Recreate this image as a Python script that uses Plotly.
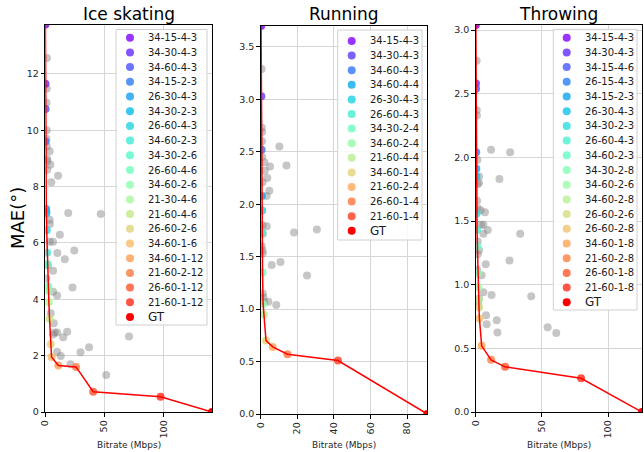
import math
import plotly.graph_objects as go

W, H = 644, 452

# ---------------- data ----------------
ice_names = ["34-15-4-3", "34-30-4-3", "34-60-4-3", "34-15-2-3", "26-30-4-3", "34-30-2-3",
             "26-60-4-3", "34-60-2-3", "34-30-2-6", "26-60-4-6", "34-60-2-6", "21-30-4-6",
             "21-60-4-6", "26-60-2-6", "34-60-1-6", "34-60-1-12", "21-60-2-12", "26-60-1-12",
             "21-60-1-12"]
ice_pareto_bitrate = [0.1, 0.15, 0.2, 0.3, 0.7, 0.85, 1.2, 1.6, 1.9, 2.5, 2.7, 3.0, 3.6,
                      4.6, 5.3, 11.0, 26.0, 40.5, 97.5]
ice_pareto_mae = [13.75, 11.65, 10.75, 9.6, 7.2, 7.05, 6.45, 5.65, 5.25, 4.45, 4.3, 3.9, 3.3,
                  2.4, 1.95, 1.65, 1.6, 0.72, 0.54]
ice_gt_bitrate = 141.0
ice_other_bitrate = [1.4, 1.2, 1.0, 1.2, 1.0, 1.3, 3.7, 1.5, 4.3, 1.6, 10.8, 5.1, 19.4, 46.9,
                     3.7, 3.9, 12.3, 3.7, 6.5, 10.2, 24.5, 16.5, 2.2, 6.6, 23.0, 0.8, 6.6, 10.0,
                     4.6, 7.2, 8.0, 6.6, 10.0, 18.5, 15.1, 70.8, 10.0, 13.1, 29.8, 37.0, 21.3,
                     51.5, 1.0, 2.0]
ice_other_mae = [12.56, 11.48, 10.97, 10.0, 9.7, 9.42, 9.25, 8.99, 8.77, 8.6, 8.38, 8.15, 7.06,
                 7.03, 6.82, 6.67, 6.29, 6.04, 6.04, 5.64, 5.73, 5.42, 5.2, 5.01, 4.42, 4.74,
                 4.27, 4.13, 3.5, 3.15, 2.82, 2.75, 2.82, 2.85, 2.65, 2.68, 2.14, 1.99, 2.12,
                 2.3, 1.69, 1.31, 7.1, 8.9]

run_names = ["34-15-4-3", "34-30-4-3", "34-60-4-3", "34-60-4-4", "26-30-4-3", "26-60-4-3",
             "34-30-2-4", "34-60-2-4", "21-60-4-4", "34-60-1-4", "21-60-2-4", "26-60-1-4",
             "21-60-1-4"]
run_pareto_bitrate = [0.2, 0.35, 0.5, 0.7, 0.8, 0.9, 1.0, 1.3, 1.8, 2.9, 6.6, 14.6, 42.2]
run_pareto_mae = [3.70, 3.03, 2.52, 2.08, 1.94, 1.73, 1.35, 1.05, 0.95, 0.70, 0.64, 0.57, 0.51]
run_gt_bitrate = 91.0
run_other_bitrate = [0.5, 0.6, 0.8, 0.7, 10.2, 14.1, 5.1, 2.0, 2.2, 3.6, 1.0, 4.7, 3.2, 3.3,
                     30.7, 18.2, 0.6, 1.0, 1.1, 6.0, 10.8, 25.3, 1.2, 1.5, 4.2, 1.8, 8.5, 1.0,
                     1.2, 0.8]
run_other_mae = [3.29, 2.73, 2.69, 2.60, 2.55, 2.37, 2.36, 2.40, 2.32, 2.25, 2.21, 2.13, 2.08,
                 1.79, 1.76, 1.73, 1.60, 1.56, 1.53, 1.42, 1.45, 1.32, 1.15, 1.11, 1.07, 1.07,
                 1.04, 1.80, 1.72, 2.45]

thr_names = ["34-15-4-3", "34-30-4-3", "34-15-4-6", "26-15-4-3", "34-15-2-3", "26-30-4-3",
             "34-30-2-3", "26-60-4-3", "34-60-2-3", "34-30-2-8", "34-60-2-6", "34-60-2-8",
             "26-60-2-6", "26-60-2-8", "34-60-1-8", "21-60-2-8", "26-60-1-8", "21-60-1-8"]
thr_pareto_bitrate = [0.1, 0.2, 0.25, 0.35, 0.45, 0.5, 0.7, 1.0, 1.3, 1.6, 1.9, 2.2, 2.5, 2.8,
                      4.5, 11.6, 22.2, 79.5]
thr_pareto_mae = [3.04, 2.58, 2.54, 2.04, 1.91, 1.85, 1.56, 1.43, 1.30, 1.09, 0.98, 0.88, 0.82,
                  0.735, 0.52, 0.41, 0.355, 0.265]
thr_gt_bitrate = 125.5
thr_other_bitrate = [0.7, 0.8, 0.9, 11.6, 26.0, 17.9, 2.5, 1.5, 2.5, 1.0, 1.5, 3.7, 7.0, 4.0,
                     5.8, 9.1, 5.8, 33.6, 1.5, 2.5, 1.5, 7.6, 25.5, 4.5, 5.8, 12.0, 41.9, 2.5,
                     1.8, 7.8, 8.3, 15.9, 16.4, 54.3, 60.8, 1.2, 1.0, 2.0]
thr_other_mae = [2.76, 2.37, 2.33, 2.06, 2.04, 1.83, 1.85, 1.79, 1.80, 1.66, 1.60, 1.585, 1.57,
                 1.47, 1.47, 1.43, 1.40, 1.40, 1.34, 1.27, 1.24, 1.16, 1.19, 1.075, 0.94, 0.92,
                 0.91, 0.89, 0.87, 0.76, 0.69, 0.72, 0.625, 0.665, 0.62, 1.98, 1.12, 0.83]

titles = ["Ice skating", "Running", "Throwing"]
x_dticks = [50, 20, 50]
y_dticks = [2, 0.5, 0.5]
y_formats = ["d", ".1f", ".1f"]

# ---------------- styling / layout ----------------
FONT = "DejaVu Sans"
# panel frames in pixels (left, right, top, bottom)
frames = [(45.3, 212.0, 24.5, 412.0), (260.7, 427.3, 26.0, 414.0), (475.7, 642.0, 25.0, 412.0)]
# legend geometry in pixels: box (x0, y0, x1, y1), marker x, text x, first row y, row step
legends = [((116, 29.5, 207, 325), 130, 146, 37.7, 14.7),
           ((337.7, 30, 422, 240), 351.7, 367.5, 41.0, 14.6),
           ((553.3, 29.3, 637, 310), 566.7, 582.5, 37.7, 14.7)]


def rainbow(t):
    r = min(1, max(0, abs(2 * t - 0.5)))
    g = min(1, max(0, math.sin(math.pi * t)))
    b = min(1, max(0, math.cos(math.pi * t / 2)))
    return (round(r * 255), round(g * 255), round(b * 255))


def rgba(c, a):
    return f"rgba({c[0]},{c[1]},{c[2]},{a})"


panels = [
    (ice_names, ice_pareto_bitrate, ice_pareto_mae, ice_gt_bitrate, ice_other_bitrate, ice_other_mae),
    (run_names, run_pareto_bitrate, run_pareto_mae, run_gt_bitrate, run_other_bitrate, run_other_mae),
    (thr_names, thr_pareto_bitrate, thr_pareto_mae, thr_gt_bitrate, thr_other_bitrate, thr_other_mae),
]

fig = go.Figure()
annotations = []
layout_axes = {}
ALPHA = 0.8

for k, (names, pb, pm, gt, ob, om) in enumerate(panels):
    idx = "" if k == 0 else str(k + 1)
    xa, ya = "x" + idx, "y" + idx
    n = len(names)
    cols = [rainbow(i / n) for i in range(n + 1)]  # last one (t=1) is GT red

    fig.add_trace(go.Scatter(x=ob, y=om, mode="markers", xaxis=xa, yaxis=ya,
                             marker=dict(size=8, color="rgba(128,128,128,0.45)", line=dict(width=0)),
                             showlegend=False, hoverinfo="skip"))
    fig.add_trace(go.Scatter(x=pb, y=pm, mode="markers", xaxis=xa, yaxis=ya,
                             marker=dict(size=8, color=[rgba(c, ALPHA) for c in cols[:n]], line=dict(width=0)),
                             showlegend=False))
    fig.add_trace(go.Scatter(x=[gt], y=[0], mode="markers", xaxis=xa, yaxis=ya,
                             marker=dict(size=8, color=rgba(cols[n], 1), line=dict(width=0)),
                             showlegend=False))
    fig.add_trace(go.Scatter(x=list(pb) + [gt], y=list(pm) + [0], mode="lines", xaxis=xa, yaxis=ya,
                             line=dict(color="red", width=1.5), showlegend=False))

    l, r, t, b = frames[k]
    common = dict(showline=True, mirror=True, linecolor="black", linewidth=1, automargin=False,
                  showgrid=True, gridcolor="#d6d6d6", gridwidth=1, zeroline=False,
                  ticks="outside", ticklen=3.5, tickcolor="black", tickwidth=1,
                  tickfont=dict(family=FONT, size=9.5, color="#262626"))
    layout_axes["xaxis" + idx] = dict(common, domain=[l / W, r / W], range=[0, gt], dtick=x_dticks[k],
                                      tick0=0, tickangle=-90, anchor=ya)
    layout_axes["yaxis" + idx] = dict(common, domain=[1 - b / H, 1 - t / H], range=[0, max(pm)],
                                      dtick=y_dticks[k], tick0=0, tickformat=y_formats[k], anchor=xa)

    # title and x label
    cx = (l + r) / 2
    annotations.append(dict(text=titles[k], x=cx / W, y=1 - 14 / H, xref="paper", yref="paper",
                            xanchor="center", yanchor="middle", showarrow=False,
                            font=dict(family=FONT, size=17, color="black")))
    annotations.append(dict(text="Bitrate (Mbps)", x=cx / W, y=1 - 445 / H, xref="paper", yref="paper",
                            xanchor="center", yanchor="middle", showarrow=False,
                            font=dict(family=FONT, size=9, color="#262626")))

    # legend (drawn on a full-figure pixel overlay)
    (bx0, by0, bx1, by1), mx, tx, fy, step = legends[k]
    fig.add_trace(go.Scatter(x=[bx0, bx1, bx1, bx0, bx0], y=[by0, by0, by1, by1, by0],
                             mode="lines", fill="toself", fillcolor="rgba(255,255,255,0.85)",
                             line=dict(color="#d0d0d0", width=1), xaxis="x4", yaxis="y4",
                             showlegend=False, hoverinfo="skip"))
    rows = [fy + i * step for i in range(n + 1)]
    fig.add_trace(go.Scatter(x=[mx] * (n + 1), y=rows, mode="markers", xaxis="x4", yaxis="y4",
                             marker=dict(size=8, color=[rgba(c, ALPHA) for c in cols[:n]] + [rgba(cols[n], 1)],
                                         line=dict(width=0)),
                             showlegend=False, hoverinfo="skip"))
    for i, name in enumerate(list(names) + ["GT"]):
        annotations.append(dict(text=name, x=tx / W, y=1 - rows[i] / H, xref="paper", yref="paper",
                                xanchor="left", yanchor="middle", showarrow=False,
                                font=dict(family=FONT, size=12 if name == "GT" else 10, color="#1a1a1a")))

annotations.append(dict(text="MAE(°)", x=17 / W, y=1 - 218 / H, xref="paper", yref="paper",
                        xanchor="center", yanchor="middle", textangle=-90, showarrow=False,
                        font=dict(family=FONT, size=18, color="black")))

layout_axes["xaxis4"] = dict(domain=[0, 1], range=[0, W], visible=False, fixedrange=True,
                             anchor="y4", automargin=False)
layout_axes["yaxis4"] = dict(domain=[0, 1], range=[H, 0], visible=False, fixedrange=True,
                             anchor="x4", automargin=False)

fig.update_layout(template="none", width=W, height=H, margin=dict(l=0, r=0, t=0, b=0, pad=0),
                  paper_bgcolor="white", plot_bgcolor="rgba(0,0,0,0)",
                  showlegend=False, annotations=annotations, **layout_axes)

fig.write_html("out.html", config={"displayModeBar": False},
               post_script="document.body.style.margin='0px';document.body.style.overflow='hidden';")
